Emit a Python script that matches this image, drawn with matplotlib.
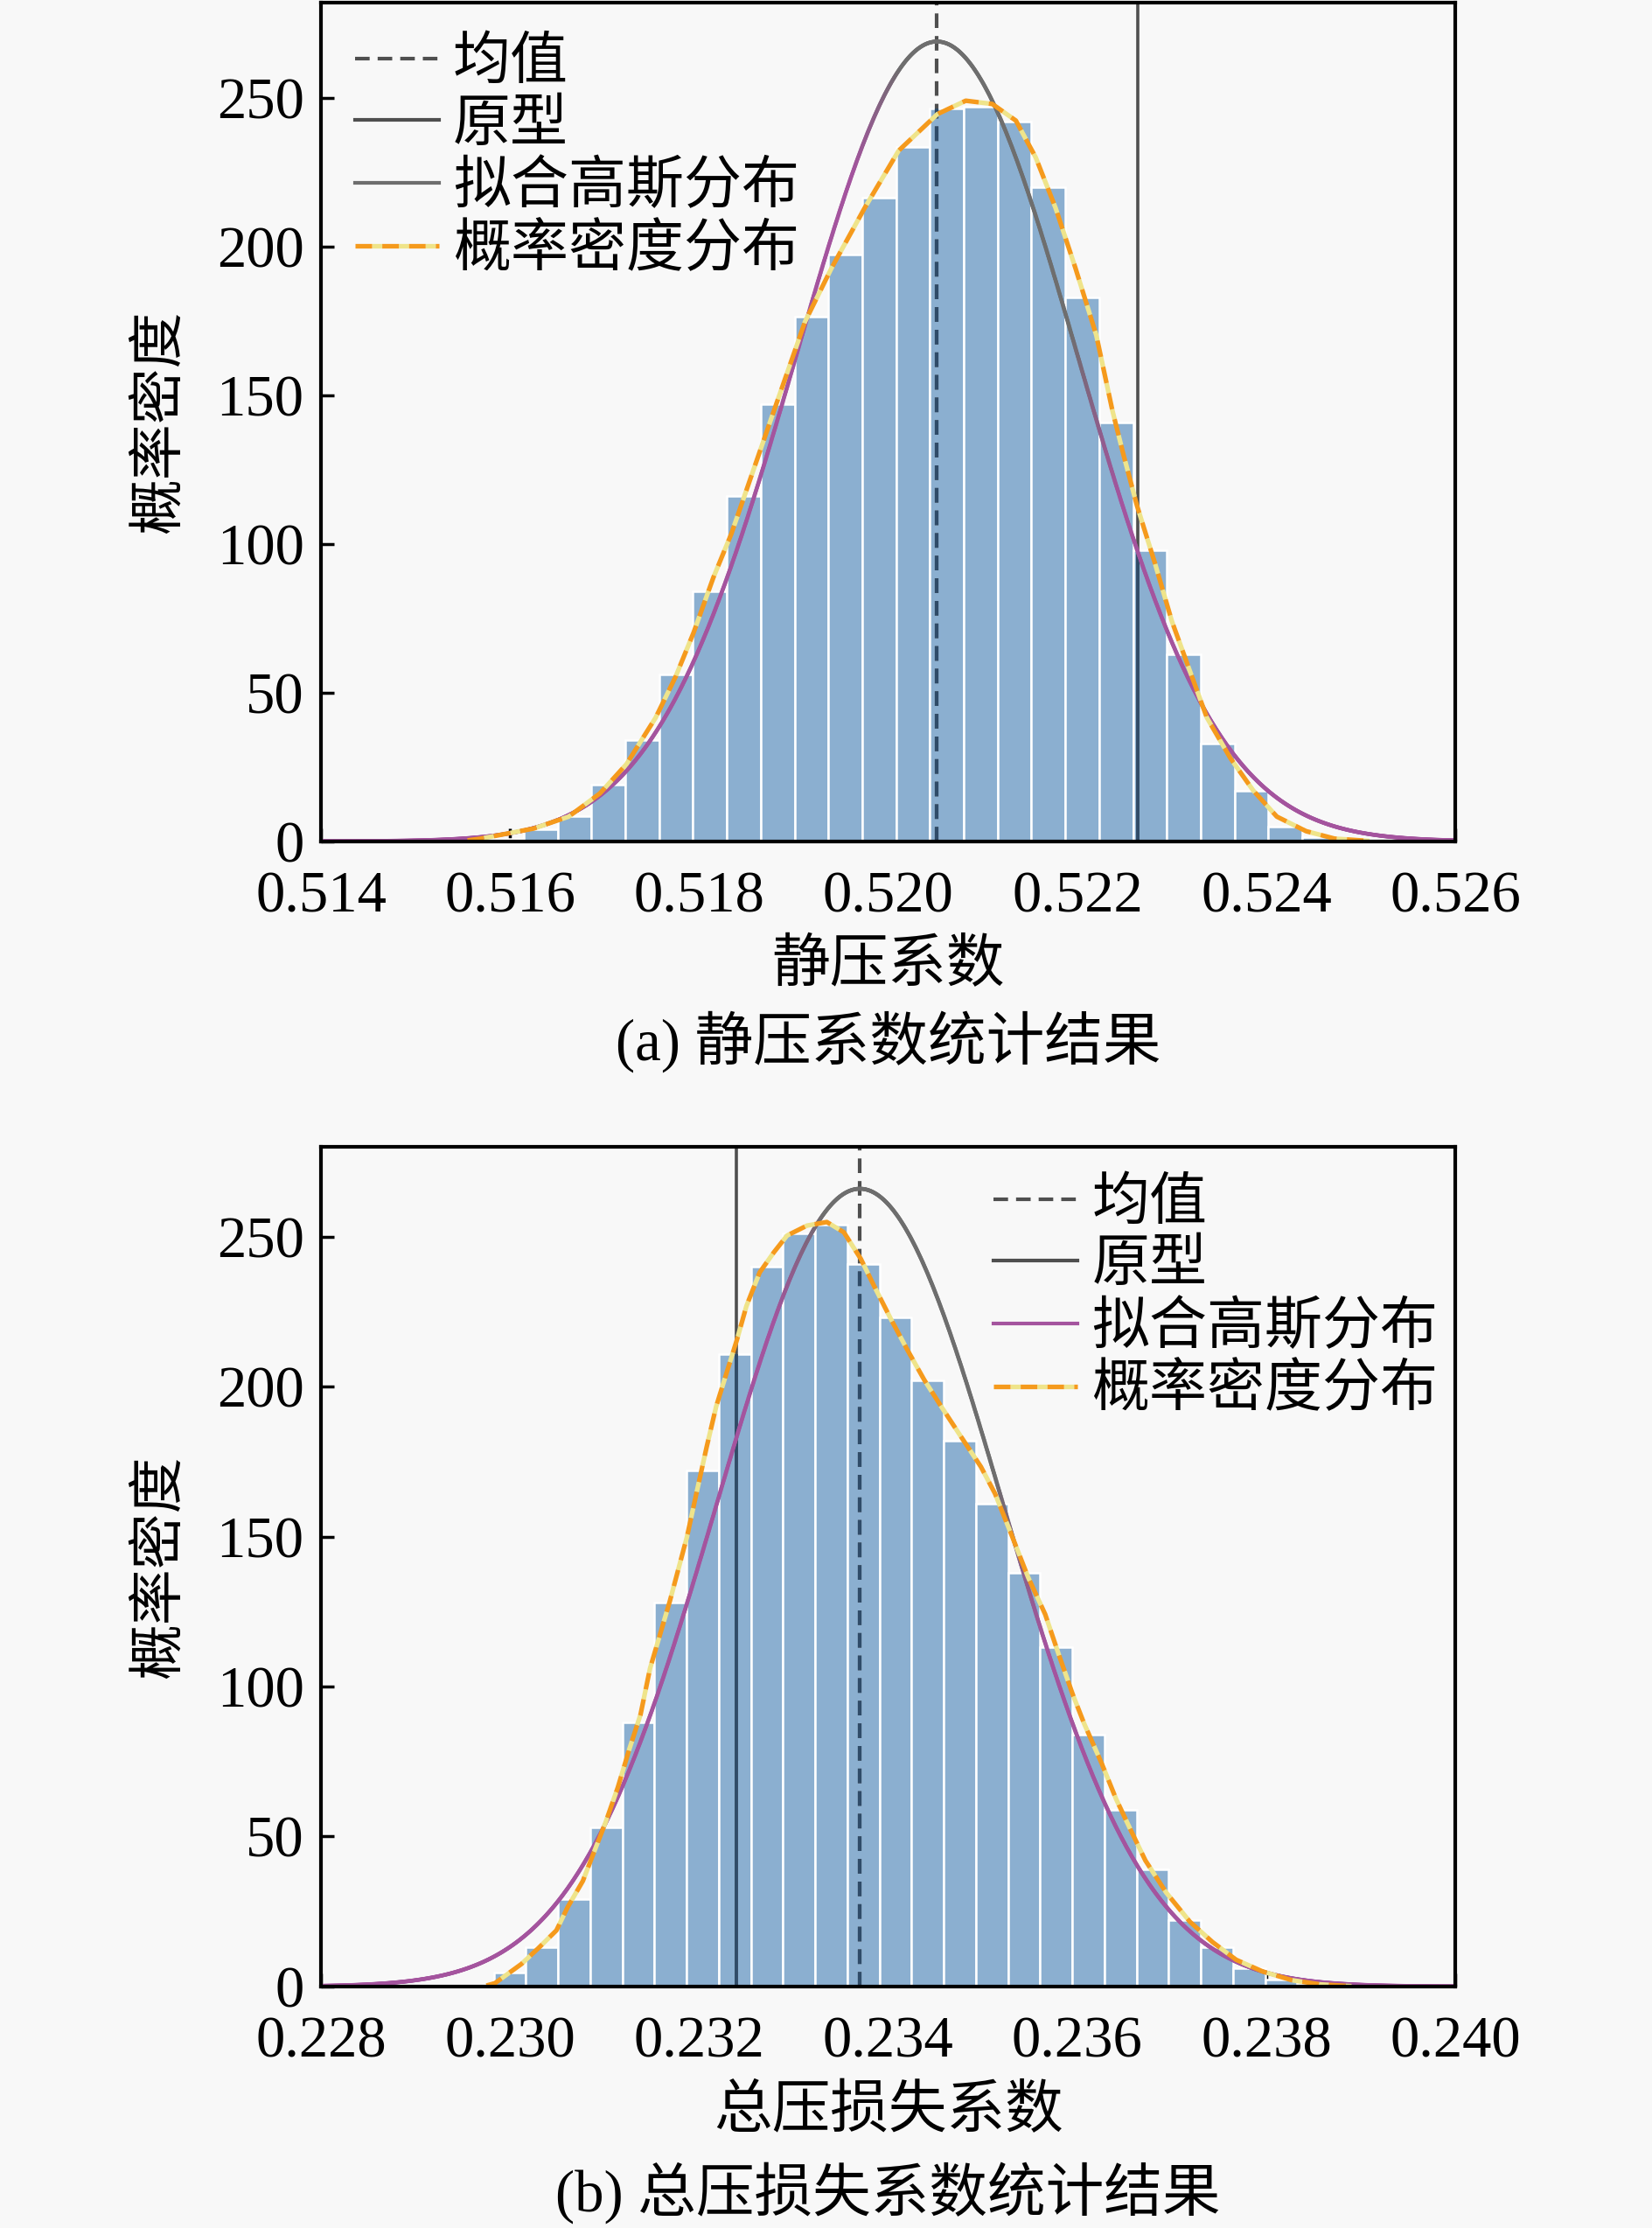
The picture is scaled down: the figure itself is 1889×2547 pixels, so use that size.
import numpy as np
import matplotlib
matplotlib.use('Agg')
import matplotlib.pyplot as plt
from matplotlib.patches import Polygon
from matplotlib.lines import Line2D
from matplotlib.collections import LineCollection
from matplotlib.colors import to_rgb

plt.rcParams['font.family'] = ['Liberation Serif', 'Noto Sans CJK SC']
plt.rcParams['axes.unicode_minus'] = False

# ---------------- data: (a) static pressure coefficient ----------------
a_bin_start = 0.515787
a_bin_width = 0.000358
a_heights = [0.8, 3.9, 8.5, 19, 34, 56, 84, 116, 147, 176.5, 197.5, 216.5, 233.5,
             246.5, 247, 242, 220, 183, 141, 98, 63, 33, 17, 5, 1.4]
a_mean = 0.520515
a_proto = 0.522637
a_fit_amp = 269.0
a_fit_sigma = 0.00149
a_kde_x = [0.51555, 0.51569, 0.51625, 0.51662, 0.51695, 0.51723, 0.51754, 0.51775,
           0.51794, 0.51815, 0.51834, 0.51850, 0.51876, 0.51912, 0.51940, 0.51975,
           0.52011, 0.52052, 0.52082, 0.52110, 0.52135, 0.52156, 0.52177, 0.52198,
           0.52220, 0.52237, 0.52248, 0.52263, 0.52282, 0.52300, 0.52319, 0.52337,
           0.52362, 0.52386, 0.52411, 0.52442, 0.52472, 0.52509]
a_kde_y = [0.3, 0.9, 4.3, 8.3, 16.1, 25.9, 41.6, 55.3,
           70.1, 88.7, 103.4, 118.1, 142.0, 174.8, 192.8, 213.0,
           232.3, 244.6, 249.1, 248.0, 242.4, 230.0, 213.0, 192.8,
           170.3, 145.0, 131.0, 113.0, 93.6, 74.0, 57.3, 41.6,
           27.9, 17.1, 8.3, 3.4, 0.9, 0.1]
a_xticks = [0.514, 0.516, 0.518, 0.520, 0.522, 0.524, 0.526]
a_xlim = (0.514, 0.526)
a_ylim = (0, 282)
a_xlabel = '静压系数'
a_caption = '(a) 静压系数统计结果'

# ---------------- data: (b) total pressure loss coefficient ----------------
b_bin_start = 0.229827
b_bin_width = 0.00034
b_heights = [4.5, 13, 29, 53, 88, 128, 172, 211, 240, 251, 254, 241, 223, 202,
             182, 161, 138, 113, 84, 59, 39, 22, 13, 6, 2.4]
b_mean = 0.23370
b_proto = 0.232396
b_fit_amp = 266.0
b_fit_sigma = 0.00151
b_kde_x = [0.22975, 0.22984, 0.23012, 0.23030, 0.23049, 0.23061, 0.23077, 0.23089,
           0.23101, 0.23114, 0.23126, 0.23138, 0.23148, 0.23169, 0.23187, 0.23197,
           0.23208, 0.23218, 0.23229, 0.23240, 0.23250, 0.23264, 0.23279, 0.23293,
           0.23314, 0.23335, 0.23353, 0.23371, 0.23385, 0.23403, 0.23420, 0.23438,
           0.23456, 0.23477, 0.23498, 0.23513, 0.23530, 0.23548, 0.23566, 0.23580,
           0.23595, 0.23607, 0.23626, 0.23641, 0.23657, 0.23672, 0.23694, 0.23719,
           0.23743, 0.23768, 0.23796, 0.23827, 0.23857, 0.23890]
b_kde_y = [0.3, 1.1, 7.5, 12.8, 18.7, 26.5, 35.2, 45.0,
           54.7, 66.4, 79.0, 90.7, 106.0, 128.5, 149.8, 164.3,
           180.0, 193.4, 204.6, 215.7, 226.9, 238.1, 244.8, 250.4,
           253.7, 254.9, 251.5, 242.6, 233.6, 222.4, 212.4, 202.3,
           193.4, 183.3, 173.3, 164.3, 150.9, 136.4, 124.1, 111.0,
           97.5, 87.8, 74.2, 62.5, 51.8, 42.0, 31.3, 21.6,
           14.8, 8.9, 5.0, 2.1, 0.7, 0.1]
b_xticks = [0.228, 0.230, 0.232, 0.234, 0.236, 0.238, 0.240]
b_xlim = (0.228, 0.240)
b_ylim = (0, 280)
b_xlabel = '总压损失系数'
b_caption = '(b) 总压损失系数统计结果'

yticks = [0, 50, 100, 150, 200, 250]
ylabel = '概率密度'
legend_labels = ['均值', '原型', '拟合高斯分布', '概率密度分布']

# ---------------- styles ----------------
BG = '#f8f8f8'
BAR = '#8bafd0'
LINE_GRAY = '#4f4f4f'
LINE_NAVY = '#2f4b68'
FIT_GRAY = '#6e6e6e'
FIT_PURPLE = '#a4549e'
KDE_ORANGE = '#f59a1c'
KDE_GAP = '#efe48a'
FS_TICK = 48
FS_TEXT = 48
FS_LEG = 47.5
# grey part of the fitted curve (in units of sigma around the mean)
GRAY_FROM, GRAY_TO, RAMP = -0.25, 0.95, 0.35

fig = plt.figure(figsize=(18.9, 25.47), dpi=100, facecolor=BG)
ax1 = fig.add_axes([0.1942, 0.6224, 0.6864, 0.3763])
ax2 = fig.add_axes([0.1942, 0.1084, 0.6864, 0.3769])


def draw(ax, start, width, heights, mean, proto, amp, sigma, kde_x, kde_y,
         xlim, ylim, xticks, xlabel, caption, xlabel_y, caption_y,
         legend_anchor, fit_legend_color):
    assert len(kde_x) == len(kde_y)
    heights = np.asarray(heights, dtype=float)
    edges = start + width * np.arange(len(heights) + 1)
    ax.set_facecolor(BG)

    ax.bar(edges[:-1], heights, width=width, align='edge', color=BAR,
           edgecolor='white', linewidth=1.8, zorder=2)

    # step outline of the bars, used as clip region for overlay colours
    verts = [(edges[0], 0)]
    for i, h in enumerate(heights):
        verts += [(edges[i], h), (edges[i + 1], h)]
    verts += [(edges[-1], 0)]
    clip = Polygon(verts, closed=True, transform=ax.transData)

    # vertical reference lines
    dash = (0, (4.0, 2.2))
    ax.axvline(mean, color=LINE_GRAY, ls=dash, lw=3.0, zorder=4)
    ax.axvline(proto, color=LINE_GRAY, lw=2.6, zorder=4)
    m2 = ax.axvline(mean, color=LINE_NAVY, ls=dash, lw=3.0, zorder=4.1)
    p2 = ax.axvline(proto, color=LINE_NAVY, lw=2.6, zorder=4.1)
    m2.set_clip_path(clip)
    p2.set_clip_path(clip)

    # fitted gaussian, purple with a grey stretch over the crest
    x = np.linspace(xlim[0], xlim[1], 1500)
    g = amp * np.exp(-0.5 * ((x - mean) / sigma) ** 2)
    pts = np.column_stack([x, g]).reshape(-1, 1, 2)
    segs = np.concatenate([pts[:-1], pts[1:]], axis=1)
    u = ((x[:-1] + x[1:]) / 2 - mean) / sigma
    w = np.clip(np.minimum((u - (GRAY_FROM - RAMP)) / RAMP,
                           ((GRAY_TO + RAMP) - u) / RAMP), 0, 1)
    c_p = np.array(to_rgb(FIT_PURPLE))
    c_g = np.array(to_rgb(FIT_GRAY))
    cols = (1 - w)[:, None] * c_p + w[:, None] * c_g
    lc = LineCollection(segs, colors=cols, linewidths=3.3, capstyle='round',
                        zorder=5)
    ax.add_collection(lc)

    # density (kde) curve
    ax.plot(kde_x, kde_y, color=KDE_ORANGE, ls=(0, (3.6, 2.2)), lw=3.8,
            gapcolor=KDE_GAP, zorder=6)

    ax.set_xlim(*xlim)
    ax.set_ylim(*ylim)
    ax.set_xticks(xticks)
    ax.set_xticklabels([f'{t:.3f}' for t in xticks])
    ax.set_yticks(yticks)
    ax.set_yticklabels([str(t) for t in yticks])
    ax.tick_params(direction='in', length=11, width=2.5, labelsize=FS_TICK,
                   top=False, right=False, colors='black')
    ax.tick_params(axis='x', pad=24)
    ax.tick_params(axis='y', pad=14)
    for s in ax.spines.values():
        s.set_linewidth(3.0)
        s.set_color('black')
        s.set_zorder(10)

    ax.set_xlabel(xlabel, fontsize=FS_TEXT, va='center')
    ax.xaxis.set_label_coords(0.5, xlabel_y)
    ax.set_ylabel(ylabel, fontsize=46, va='center')
    ax.yaxis.set_label_coords(-0.141, 0.5)
    ax.text(0.5, caption_y, caption, transform=ax.transAxes, ha='center',
            va='center', fontsize=FS_TEXT)

    handles = [
        Line2D([], [], color=LINE_GRAY, ls=dash, lw=3.0),
        Line2D([], [], color=LINE_GRAY, lw=3.0),
        Line2D([], [], color=fit_legend_color, lw=3.0),
        Line2D([], [], color=KDE_ORANGE, ls=(0, (3.6, 2.2)), lw=3.8,
               gapcolor=KDE_GAP),
    ]
    ax.legend(handles, legend_labels, loc='upper left',
              bbox_to_anchor=legend_anchor, frameon=False, fontsize=FS_LEG,
              handlelength=1.45, handletextpad=0.25, labelspacing=0.15,
              borderpad=0, borderaxespad=0)


draw(ax1, a_bin_start, a_bin_width, a_heights, a_mean, a_proto, a_fit_amp,
     a_fit_sigma, a_kde_x, a_kde_y, a_xlim, a_ylim, a_xticks, a_xlabel,
     a_caption, -0.150, -0.239, (0.030, 0.958), FIT_GRAY)
draw(ax2, b_bin_start, b_bin_width, b_heights, b_mean, b_proto, b_fit_amp,
     b_fit_sigma, b_kde_x, b_kde_y, b_xlim, b_ylim, b_xticks, b_xlabel,
     b_caption, -0.150, -0.245, (0.593, 0.962), FIT_PURPLE)

fig.savefig('out.png', dpi=100, facecolor=BG)
